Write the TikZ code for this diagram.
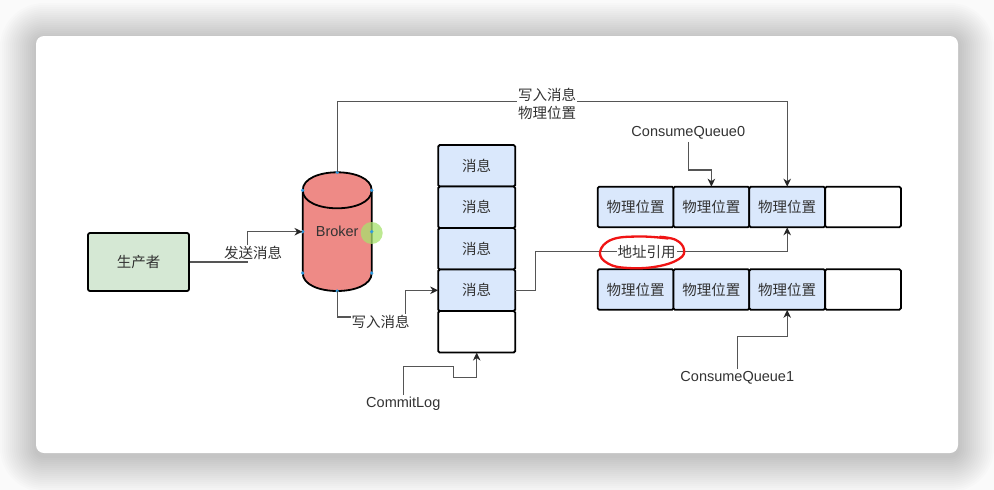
\documentclass[tikz,border=0pt]{standalone}
\usepackage{fontspec}
\setmainfont{Liberation Sans}
\newfontfamily\cjk{Noto Sans CJK SC}
\usepackage{tikz}
\usetikzlibrary{positioning,calc,arrows.meta,shapes.geometric}
\definecolor{prodgreen}{HTML}{D5E8D4}
\definecolor{cellblue}{HTML}{DAE8FC}
\definecolor{brokerred}{HTML}{EE8A86}
\definecolor{textgray}{HTML}{333333}
\definecolor{linegray}{HTML}{555555}
\definecolor{dotblue}{HTML}{2E9BE0}
\definecolor{hlgreen}{HTML}{A8E26E}
\definecolor{markred}{HTML}{F01414}
\newcommand\enfont{\fontsize{14.5}{18}\selectfont}
\newcommand\cnfont{\cjk\fontsize{14.5}{18}\selectfont}

\begin{document}
\begin{tikzpicture}[x=1pt,y=-1pt,>={Stealth[length=8pt,width=7.5pt,inset=2.5pt,color=black!85]}]
  \tikzstyle{msgcell}=[draw=black,line width=1.8pt,fill=cellblue,rounded corners=1.5pt,minimum width=77pt,minimum height=41.5pt,outer sep=0pt,inner sep=0pt,font=\cnfont,text=textgray]
  \tikzstyle{poscell}=[msgcell,minimum width=75.8pt,minimum height=40.6pt]
  \tikzstyle{conn}=[draw=linegray,line width=1.3pt,->]
  \tikzstyle{lbl}=[fill=white,inner sep=1pt,font=\cnfont,text=textgray]
  \tikzstyle{tagtext}=[inner sep=2pt,font=\enfont,text=textgray]

  \useasboundingbox (0,0) rectangle (994,490);
  \fill[white!98!black] (0,0) rectangle (994,490);
  \foreach \i [evaluate=\i as \r using 8+2*\i] in {1,...,18}
    \fill[black,opacity=0.011,rounded corners=\r pt] (36-2*\i,39-2*\i) rectangle (958+2*\i,456+2*\i);
  \fill[white,rounded corners=8pt] (36,36) rectangle (958,453);

  \node[draw=black,line width=1.8pt,fill=prodgreen,rounded corners=2pt,minimum width=101pt,minimum height=58pt,font=\cnfont,text=textgray] (prod) at (138.5,262) {生产者};

  % broker
  \filldraw[fill=brokerred,draw=black,line width=1.8pt] (302.7,190.3) -- (302.7,273) .. controls +(0,24) and +(0,24) .. (371.7,273) -- (371.7,190.3) .. controls +(0,-24) and +(0,-24) .. (302.7,190.3) -- cycle;
  \draw[black,line width=1.8pt] (302.7,190.3) .. controls +(0,24) and +(0,24) .. (371.7,190.3);
  \node[tagtext,inner sep=0pt,minimum width=69pt,minimum height=118.7pt] (broker) at (337.2,231.7) {Broker};
  \fill[hlgreen,opacity=0.75] (371.7,233) circle[radius=11];
  \foreach \p in {(337.2,172.3),(302.7,190.3),(371.7,190.3),(302.7,273),(371.7,273),(337.2,291),(302.7,231.7),(371.7,231.7)}
    \fill[dotblue] \p circle[radius=1.8];

  % commit log
  \node[msgcell] (m1) at (476.7,165.8) {消息};
  \foreach \i [count=\j] in {2,3,4}
    \node[msgcell,below=0pt of m\j] (m\i) {消息};
  \node[msgcell,fill=white,below=0pt of m4] (m5) {};

  % consume queues
  \foreach \q/\y in {0/207,1/289.5} {
    \node[poscell] (q\q c1) at (635.6,\y) {物理位置};
    \foreach \i [count=\j] in {2,3}
      \node[poscell,right=0pt of q\q c\j] (q\q c\i) {物理位置};
    \node[poscell,fill=white,right=0pt of q\q c3] (q\q c4) {};
  }

  \node[tagtext] (cq0) at (688.3,133.3) {ConsumeQueue0};
  \node[tagtext] (cq1) at (737.3,377.7) {ConsumeQueue1};
  \node[tagtext] (clog) at (403.3,404) {CommitLog};

  \draw[conn] (prod.east) -- ++(57.7,0) |- (broker.west);
  \draw[conn] (broker.south) -- ++(0,25.7) -| ($(m4.west)+(-33,0)$) -- (m4.west);
  \draw[conn] (broker.north) -- ++(0,-70.6) -| (q0c3.north);
  \draw[conn] (m4.east) -- ++(20,0) |- ($(q0c3.south)+(0,24.4)$) -- (q0c3.south);
  \draw[conn] (cq0.south) -- ++(0,28) -| (q0c2.north);
  \draw[conn] (cq1.north) -- ++(0,-32.3) -| (q1c3.south);
  \draw[conn] (clog.north) -- ++(0,-28.6) -| ++(50,11) -| (m5.south);

  \node[lbl] (send) at (253,253) {发送消息};
  \node[lbl] (write) at (380.5,321.5) {写入消息};
  \node[lbl,align=center] (writepos) at (547,104) {写入消息\\物理位置};
  \node[lbl] (addr) at (646.7,252) {地址引用};
  % hand drawn mark
  \draw[markred,line width=2.3pt,line cap=round] plot[smooth,tension=0.7] coordinates {(668,238.5) (640,236.5) (612,239.5) (600,252) (608,263.5) (628,268) (657,266.5) (679,259) (684,249.5) (676,240) (660,236.8)};
\end{tikzpicture}
\end{document}
